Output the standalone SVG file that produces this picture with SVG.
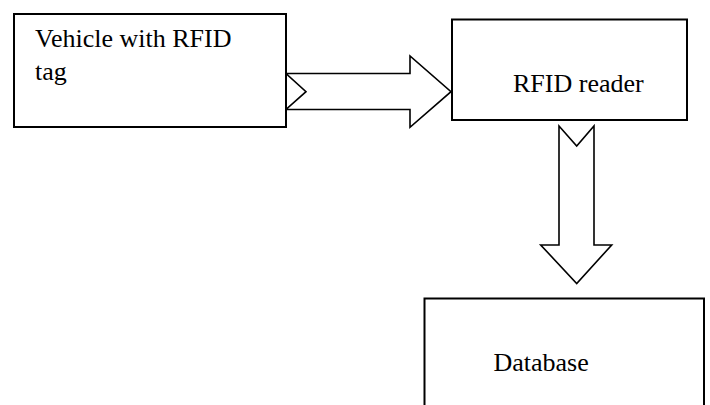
<svg xmlns="http://www.w3.org/2000/svg" width="710" height="405" viewBox="0 0 710 405">
<style>
.box{fill:#fff;stroke:#000;stroke-width:2}
.arr{fill:#fff;stroke:#000;stroke-width:1.6;stroke-linejoin:miter}
text{font-family:"Liberation Serif","Times New Roman",serif;font-size:26px;fill:#000}
</style>
<rect width="710" height="405" fill="#fff"/>
<g id="connectors">
<path class="arr" d="M286,73.5 L410,73.5 L410,56 L451,91.7 L410,127.3 L410,109.5 L286,109.5 L306,91.7 Z"/>
<path class="arr" d="M559,126 L576.7,146 L594,126 L594,245 L611.7,245 L576.7,283.5 L540.7,245 L559,245 Z"/>
</g>
<g id="vehicle">
<rect class="box" x="14" y="14" width="272" height="113"/>
<text x="35" y="47">Vehicle with RFID</text>
<text x="35" y="80">tag</text>
</g>
<g id="reader">
<rect class="box" x="452" y="19.5" width="235" height="100.5"/>
<text x="513" y="91.7">RFID reader</text>
</g>
<g id="database">
<rect class="box" x="424.5" y="298.5" width="279.5" height="120"/>
<text x="493.5" y="370.7">Database</text>
</g>
</svg>
